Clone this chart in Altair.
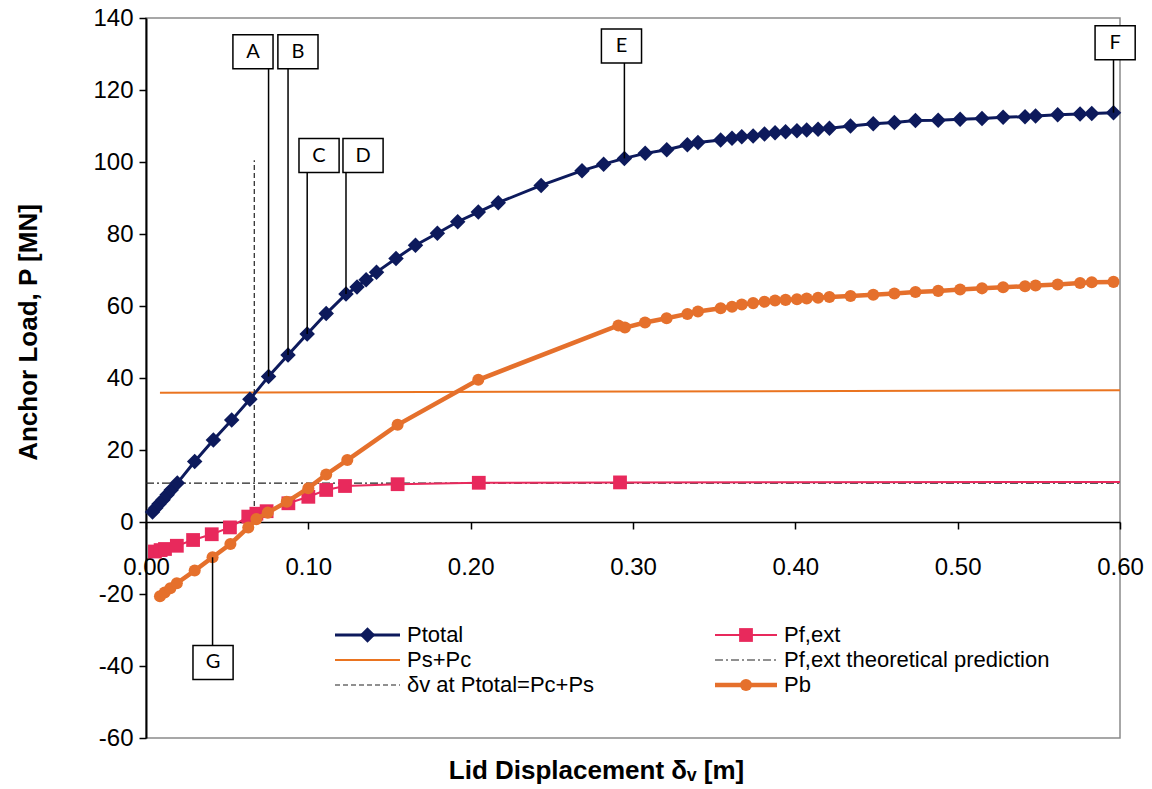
import altair as alt
import pandas as pd

# ---- series values -------------------------------------------------------
ptotal_x = [0.004, 0.006, 0.008, 0.0105, 0.013, 0.0155, 0.0193, 0.030, 0.0415, 0.0528,
            0.064, 0.0755, 0.0875, 0.0993, 0.111, 0.1232, 0.130, 0.1356, 0.142, 0.154,
            0.166, 0.1795, 0.192, 0.2047, 0.217, 0.2434, 0.2686, 0.2819, 0.2947, 0.3075,
            0.3208, 0.3335, 0.340, 0.354, 0.361, 0.367, 0.374, 0.381, 0.3875, 0.394,
            0.401, 0.407, 0.414, 0.421, 0.434, 0.448, 0.461, 0.474, 0.488, 0.5015,
            0.515, 0.528, 0.5415, 0.548, 0.5616, 0.5754, 0.5826, 0.596]
ptotal_y = [2.8, 3.9, 5.0, 6.2, 7.6, 8.9, 10.8, 16.8, 22.8, 28.3,
            34.1, 40.4, 46.4, 52.2, 57.9, 63.3, 65.3, 67.3, 69.4, 73.2,
            76.9, 80.2, 83.4, 86.1, 88.7, 93.5, 97.6, 99.4, 101.0, 102.4,
            103.4, 104.8, 105.4, 106.1, 106.6, 107.0, 107.2, 107.8, 108.1, 108.4,
            108.7, 108.9, 109.1, 109.4, 110.0, 110.6, 111.0, 111.5, 111.6, 111.9,
            112.1, 112.4, 112.6, 112.8, 113.1, 113.3, 113.5, 113.7]

pb_x = [0.0086, 0.0115, 0.015, 0.019, 0.030, 0.041, 0.052, 0.063, 0.068, 0.075,
        0.0867, 0.100, 0.111, 0.124, 0.155, 0.2047, 0.291, 0.295, 0.3074, 0.3207,
        0.3335, 0.340, 0.354, 0.361, 0.367, 0.374, 0.381, 0.3875, 0.394, 0.401,
        0.407, 0.414, 0.421, 0.434, 0.448, 0.461, 0.474, 0.488, 0.5015, 0.515,
        0.528, 0.5415, 0.548, 0.5616, 0.5754, 0.5826, 0.596]
pb_y = [-20.6, -19.6, -18.4, -17.0, -13.5, -9.8, -6.1, -1.5, 0.8, 2.6,
        5.6, 9.4, 13.2, 17.2, 27.0, 39.5, 54.6, 54.0, 55.4, 56.6,
        57.8, 58.5, 59.4, 59.8, 60.4, 60.8, 61.2, 61.5, 61.7, 61.9,
        62.1, 62.3, 62.5, 62.8, 63.1, 63.5, 63.9, 64.2, 64.6, 64.9,
        65.2, 65.5, 65.7, 66.0, 66.4, 66.6, 66.7]

pf_x = [0.0055, 0.009, 0.0117, 0.019, 0.029, 0.0405, 0.0517, 0.063, 0.068, 0.0743,
        0.0877, 0.100, 0.111, 0.1226, 0.155, 0.205, 0.292]
pf_y = [-8.2, -7.8, -7.5, -6.6, -5.0, -3.4, -1.5, 1.5, 2.3, 3.0,
        5.2, 7.0, 8.9, 10.0, 10.5, 10.9, 11.0]
# Pf,ext line carried on to the end of the axis without markers
pf_tail_x = [0.292, 0.60]
pf_tail_y = [11.0, 11.1]

pspc_x = [0.0086, 0.60]
pspc_y = [35.9, 36.6]

pf_theory_x = [0.0, 0.60]
pf_theory_y = [10.8, 10.8]

# displacement at which Ptotal = Pc + Ps
dv_cross_x = [0.0667]
dv_cross_y0 = [0.0]
dv_cross_y1 = [100.5]

# ---- annotation boxes ----------------------------------------------------
ann_label = ["A", "B", "C", "D", "E", "F", "G"]
ann_box_x = [0.0659, 0.0936, 0.1066, 0.1337, 0.2929, 0.5970, 0.0413]
ann_box_y = [130.6, 130.6, 101.8, 101.8, 132.2, 133.1, -39.0]
ann_line_x = [0.0755, 0.0875, 0.0993, 0.1232, 0.2947, 0.596, 0.041]
ann_line_y = [40.4, 46.4, 52.2, 63.3, 101.0, 113.7, -9.8]

# ---- axes ----------------------------------------------------------------
x_ticks = [0.0, 0.1, 0.2, 0.3, 0.4, 0.5, 0.6]
y_ticks = [-60, -40, -20, 0, 20, 40, 60, 80, 100, 120, 140]

legend_left = ["Ptotal", "Ps+Pc", "δv at Ptotal=Pc+Ps"]
legend_right = ["Pf,ext", "Pf,ext theoretical prediction", "Pb"]

NAVY = "#0d1a5c"
ORANGE_LINE = "#ea7420"
ORANGE_PB = "#e5702c"
CRIMSON = "#e8295c"
FONT = "Liberation Sans"

PLOT_W, PLOT_H = 974, 720

x_scale = alt.Scale(domain=[0, 0.6], nice=False, zero=False)
y_scale = alt.Scale(domain=[-60, 140], nice=False, zero=False)

x_axis = alt.Axis(
    title="Lid Displacement δᵥ [m]", values=x_ticks, format=".2f",
    offset=-int(PLOT_H * 60 / 200), grid=False, labelFlush=False,
    domainColor="black", domainWidth=1.5, tickColor="black", tickSize=7, tickWidth=1.5,
    labelFont=FONT, labelFontSize=24, labelColor="black", labelPadding=26,
    titleFont=FONT, titleFontSize=26, titleFontWeight="bold", titleColor="black",
    titleX=450, titleY=248, titleBaseline="middle",
)
y_axis = alt.Axis(
    title="Anchor Load, P [MN]", values=y_ticks, grid=False,
    labelExpr="datum.value < 0 ? '-' + abs(datum.value) : '' + datum.value",
    domainColor="black", domainWidth=2, tickColor="black", tickSize=7, tickWidth=1.5,
    labelFont=FONT, labelFontSize=24, labelColor="black", labelPadding=6,
    titleFont=FONT, titleFontSize=26, titleFontWeight="bold", titleColor="black",
    titleX=-118, titleY=314, titleBaseline="middle", titleAngle=-90,
)


def xy(df_x, df_y):
    return pd.DataFrame({"x": df_x, "y": df_y})


def X(field="x"):
    return alt.X(f"{field}:Q", scale=x_scale, axis=x_axis)


def Y(field="y"):
    return alt.Y(f"{field}:Q", scale=y_scale, axis=y_axis)


DIAMOND_SIZE, SQUARE_SIZE, CIRCLE_SIZE = 240, 190, 145

layers = []

# Ps+Pc
layers.append(alt.Chart(xy(pspc_x, pspc_y)).mark_line(color=ORANGE_LINE, strokeWidth=2)
              .encode(x=X(), y=Y()))
# Pf,ext theoretical prediction
layers.append(alt.Chart(xy(pf_theory_x, pf_theory_y))
              .mark_line(color="#222222", strokeWidth=1.1, strokeDash=[8, 3, 2, 3])
              .encode(x=X(), y=Y()))
# δv at Ptotal = Pc + Ps
layers.append(alt.Chart(pd.DataFrame({"x": dv_cross_x, "y": dv_cross_y0, "y2": dv_cross_y1}))
              .mark_rule(color="#222222", strokeWidth=1.2, strokeDash=[5, 3])
              .encode(x=X(), y=Y(), y2="y2:Q"))
# Pf,ext
layers.append(alt.Chart(xy(pf_tail_x, pf_tail_y)).mark_line(color=CRIMSON, strokeWidth=2)
              .encode(x=X(), y=Y()))
layers.append(alt.Chart(xy(pf_x, pf_y))
              .mark_line(color=CRIMSON, strokeWidth=2,
                         point=alt.OverlayMarkDef(shape="square", size=SQUARE_SIZE, filled=True,
                                                  color=CRIMSON, opacity=1))
              .encode(x=X(), y=Y()))
# Pb
layers.append(alt.Chart(xy(pb_x, pb_y))
              .mark_line(color=ORANGE_PB, strokeWidth=4.5,
                         point=alt.OverlayMarkDef(shape="circle", size=CIRCLE_SIZE, filled=True,
                                                  color=ORANGE_PB, opacity=1))
              .encode(x=X(), y=Y()))
# Ptotal
layers.append(alt.Chart(xy(ptotal_x, ptotal_y))
              .mark_line(color=NAVY, strokeWidth=3,
                         point=alt.OverlayMarkDef(shape="diamond", size=DIAMOND_SIZE, filled=True,
                                                  color=NAVY, opacity=1))
              .encode(x=X(), y=Y()))

# annotation leaders, boxes and letters
ann = pd.DataFrame({"label": ann_label, "bx": ann_box_x, "by": ann_box_y,
                    "x": ann_line_x, "y": ann_line_y})
layers.append(alt.Chart(ann).mark_rule(color="black", strokeWidth=1.5)
              .encode(x=X("x"), y=Y("by"), y2="y:Q"))
box_shape = "M-1.18,-1L1.18,-1L1.18,1L-1.18,1Z"
layers.append(alt.Chart(ann).mark_point(shape=box_shape, size=34 * 34, fill="white",
                                        stroke="black", strokeWidth=1.5,
                                        fillOpacity=1, opacity=1)
              .encode(x=X("bx"), y=Y("by")))
layers.append(alt.Chart(ann).mark_text(font="Lato", fontSize=20, color="black",
                                       baseline="middle", align="center")
              .encode(x=X("bx"), y=Y("by"), text="label:N"))

# legend, drawn inside the plot area
LEG_ROWS = [617, 642, 667]
LEG_FONT = 22


def legend_entry(label, x0, x1, y, line_kw, point_kw=None):
    d = pd.DataFrame({"label": [label]})
    out = [alt.Chart(d).mark_rule(**line_kw)
           .encode(x=alt.value(x0), x2=alt.value(x1), y=alt.value(y))]
    if point_kw:
        out.append(alt.Chart(d).mark_point(filled=True, opacity=1, **point_kw)
                   .encode(x=alt.value((x0 + x1) / 2), y=alt.value(y)))
    out.append(alt.Chart(d).mark_text(font=FONT, fontSize=LEG_FONT, color="black",
                                      align="left", baseline="middle")
               .encode(x=alt.value(x1 + 7), y=alt.value(y), text="label:N"))
    return out


L0, L1 = 189, 254
R0, R1 = 569, 631
layers += legend_entry(legend_left[0], L0, L1, LEG_ROWS[0],
                       dict(color=NAVY, strokeWidth=3),
                       dict(shape="diamond", size=DIAMOND_SIZE, color=NAVY))
layers += legend_entry(legend_left[1], L0, L1, LEG_ROWS[1],
                       dict(color=ORANGE_LINE, strokeWidth=2))
layers += legend_entry(legend_left[2], L0, L1, LEG_ROWS[2],
                       dict(color="#222222", strokeWidth=1.2, strokeDash=[5, 3]))
layers += legend_entry(legend_right[0], R0, R1, LEG_ROWS[0],
                       dict(color=CRIMSON, strokeWidth=2),
                       dict(shape="square", size=SQUARE_SIZE, color=CRIMSON))
layers += legend_entry(legend_right[1], R0, R1, LEG_ROWS[1],
                       dict(color="#222222", strokeWidth=1.1, strokeDash=[8, 3, 2, 3]))
layers += legend_entry(legend_right[2], R0, R1, LEG_ROWS[2],
                       dict(color=ORANGE_PB, strokeWidth=4.5),
                       dict(shape="circle", size=CIRCLE_SIZE, color=ORANGE_PB))

chart = (
    alt.layer(*layers)
    .properties(width=PLOT_W, height=PLOT_H,
                autosize=alt.AutoSizeParams(type="none"),
                padding={"left": 146, "top": 18, "right": 32, "bottom": 51},
                background="white")
    .configure_view(stroke="#8a8a8a", strokeWidth=1.5)
)

chart.save("out.html", embed_options={"renderer": "svg", "actions": False})
